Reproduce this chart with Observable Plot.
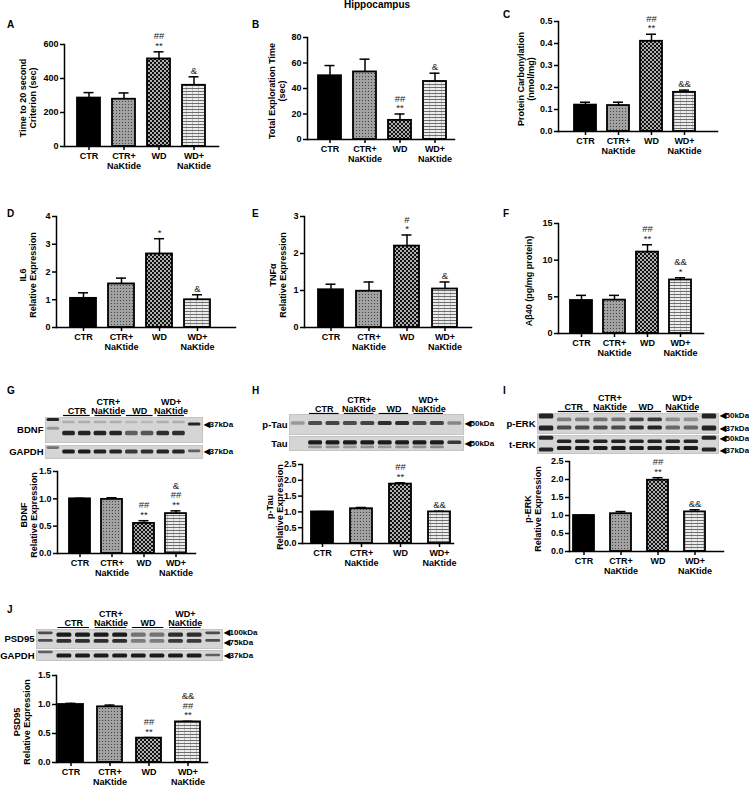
<!DOCTYPE html>
<html><head><meta charset="utf-8">
<script src="https://cdn.jsdelivr.net/npm/d3@7"></script>
<script src="https://cdn.jsdelivr.net/npm/@observablehq/plot@0.6"></script>
<style>
body{margin:0;background:#fff;}
#fig{position:relative;width:749px;height:786px;overflow:hidden;font-family:"Liberation Sans",Arial,sans-serif;background:#fff;}
.lbl{position:absolute;font-weight:bold;line-height:1;color:#000;}
.ylab{position:absolute;white-space:pre;text-align:center;font-weight:bold;font-size:9px;line-height:1.15;color:#000;transform:translate(-50%,-50%) rotate(-90deg);}
#fig svg{position:absolute;overflow:visible;}
</style></head><body>
<div id="fig">
<svg width="0" height="0" style="position:absolute">
<defs>
<pattern id="pCtrN" width="3" height="3" patternUnits="userSpaceOnUse"><rect width="3" height="3" fill="#a2a2a2"/><rect width="1" height="1" fill="#444"/></pattern>
<pattern id="pWD" width="4" height="4" patternUnits="userSpaceOnUse"><rect width="4" height="4" fill="#b0b0b0"/><rect width="2" height="2" fill="#111"/><rect x="2" y="2" width="2" height="2" fill="#111"/></pattern>
<pattern id="pWDN" width="6" height="3" patternUnits="userSpaceOnUse"><rect width="6" height="3" fill="#ececec"/><rect y="2" width="6" height="1" fill="#6e6e6e"/><rect x="4" y="0" width="1" height="2" fill="#c0c0c0"/></pattern>
</defs>
</svg>
</div>
<script>
// ---------------- DATA ----------------
const groups = ["CTR", "CTR+\nNaKtide", "WD", "WD+\nNaKtide"];
const groupFills = ["#000", "url(#pCtrN)", "url(#pWD)", "url(#pWDN)"];

// A
const timeToCriterion = [285, 278, 515, 360];
const timeToCriterionSEM = [32, 37, 42, 50];
const timeToCriterionSig = ["", "", "##\n**", "&"];
const timeTicks = [0, 200, 400, 600];
// B
const explorationTime = [50, 53, 15, 45.5];
const explorationSEM = [8, 10, 5, 6.5];
const explorationSig = ["", "", "##\n**", "&"];
const explorationTicks = [0, 20, 40, 60, 80];
// C
const carbonylation = [0.12, 0.118, 0.41, 0.178];
const carbonylationSEM = [0.013, 0.015, 0.032, 0.01];
const carbonylationSig = ["", "", "##\n**", "&&"];
const carbonylationTicks = [0, 0.1, 0.2, 0.3, 0.4, 0.5];
// D
const il6 = [1.05, 1.57, 2.65, 1.0];
const il6SEM = [0.2, 0.21, 0.55, 0.18];
const il6Sig = ["", "", "*", "&"];
const il6Ticks = [0, 1, 2, 3, 4];
// E
const tnfa = [1.02, 0.98, 2.2, 1.04];
const tnfaSEM = [0.15, 0.25, 0.3, 0.19];
const tnfaSig = ["", "", "#\n*", "&"];
const tnfaTicks = [0, 1, 2, 3];
// F
const abeta40 = [4.5, 4.55, 11.1, 7.3];
const abeta40SEM = [0.7, 0.65, 1.0, 0.3];
const abeta40Sig = ["", "", "##\n**", "&&\n*"];
const abeta40Ticks = [0, 5, 10, 15];
// G
const bdnf = [1.0, 0.99, 0.55, 0.73];
const bdnfSEM = [0.01, 0.03, 0.05, 0.05];
const bdnfSig = ["", "", "##\n**", "&\n##\n**"];
const relTicks15 = [0, 0.5, 1.0, 1.5];
// H
const pTau = [1.0, 1.1, 1.88, 1.0];
const pTauSEM = [0.01, 0.04, 0.04, 0.02];
const pTauSig = ["", "", "##\n**", "&&"];
const relTicks25 = [0, 0.5, 1.0, 1.5, 2.0, 2.5];
// I
const pErk = [1.0, 1.05, 1.98, 1.1];
const pErkSEM = [0.01, 0.06, 0.07, 0.06];
const pErkSig = ["", "", "##\n**", "&&"];
// J
const psd95 = [1.0, 0.96, 0.42, 0.70];
const psd95SEM = [0.02, 0.03, 0.01, 0.01];
const psd95Sig = ["", "", "##\n**", "&&\n##\n**"];

// Western blot band intensities (8 sample lanes, 2 per group)
const bdnfBand = [0.9, 0.9, 0.9, 0.9, 0.6, 0.65, 0.85, 0.85];
const bdnfFaintBand = [0.2, 0.2, 0.2, 0.2, 0.15, 0.15, 0.2, 0.2];
const gapdhBandG = [0.95, 0.95, 0.9, 0.9, 0.8, 0.85, 0.9, 0.9];
const pTauBand = [0.7, 0.75, 0.7, 0.75, 0.85, 0.85, 0.7, 0.75];
const tauBand = [0.95, 0.95, 0.95, 0.95, 0.95, 0.95, 0.95, 0.95];
const tauLowerBand = [0.35, 0.35, 0.3, 0.35, 0.3, 0.35, 0.35, 0.4];
const pErkUpperBand = [0.45, 0.45, 0.5, 0.5, 0.75, 0.8, 0.35, 0.35];
const pErkLowerBand = [0.7, 0.7, 0.7, 0.7, 0.85, 0.9, 0.55, 0.55];
const tErkUpperBand = [0.9, 0.9, 0.9, 0.9, 0.9, 0.9, 0.9, 0.9];
const tErkLowerBand = [0.95, 0.95, 0.95, 0.95, 0.95, 0.95, 0.95, 0.95];
const psd95UpperBand = [0.95, 0.95, 0.95, 0.95, 0.5, 0.5, 0.85, 0.85];
const psd95LowerBand = [0.85, 0.85, 0.85, 0.85, 0.45, 0.45, 0.8, 0.8];
const gapdhBandJ = [0.95, 0.95, 0.95, 0.95, 0.95, 0.95, 0.95, 0.95];
// ladder lanes: [lane, relative position, intensity]
const bdnfLadder = [[0, 0.1, 0.9], [0, 0.45, 0.3], [9, 0.28, 0.9]];
const gapdhLadderG = [[0, 0.2, 0.5], [9, 0.45, 0.6]];
const pTauLadder = [[0, 0.45, 0.3], [9, 0.45, 0.4]];
const tauLadder = [[9, 0.45, 0.8]];
const pErkLadder = [[0, 0.15, 0.9], [0, 0.75, 0.9], [9, 0.15, 0.9], [9, 0.75, 0.9]];
const tErkLadder = [[0, 0.15, 0.9], [0, 0.8, 0.9], [9, 0.15, 0.9], [9, 0.8, 0.9]];
const psd95Ladder = [[0, 0.2, 0.7], [0, 0.6, 0.7], [9, 0.2, 0.7], [9, 0.6, 0.7]];
const gapdhLadderJ = [[0, 0.2, 0.6], [9, 0.5, 0.6]];
// molecular weight markers: [label, relative position]
const kdaBDNF = [["37kDa", 0.28]];
const kdaGAPDH_G = [["37kDa", 0.46]];
const kdaPTau = [["50kDa", 0.45]];
const kdaTau = [["50kDa", 0.5]];
const kdaPErk = [["50kDa", 0.1], ["37kDa", 0.75]];
const kdaTErk = [["50kDa", 0.17], ["37kDa", 0.83]];
const kdaPSD95 = [["100kDa", 0.16], ["75kDa", 0.68]];
const kdaGAPDH_J = [["37kDa", 0.5]];

// ---------------- LAYOUT ----------------
const FONT = '"Liberation Sans", Arial, sans-serif';
const fig = document.getElementById("fig");

function place(el, left, top) {
  el.style.left = left + "px";
  el.style.top = top + "px";
  fig.appendChild(el);
}
function label(text, left, top, size) {
  const d = document.createElement("div");
  d.className = "lbl";
  d.style.fontSize = size + "px";
  d.textContent = text;
  place(d, left, top);
}
function ylabel(text, cx, cy) {
  const d = document.createElement("div");
  d.className = "ylab";
  d.textContent = text;
  place(d, cx, cy);
}

function barPanel(values, sem, sig, ticks, fmt, ylab, L) {
  const mL = 50, mR = 8, mT = 30, mB = 30;
  const left = L.axisL - mL, top = L.yTop - mT;
  const width = mL + (L.axisR - L.axisL) + mR;
  const height = mT + (L.yBot - L.yTop) + mB;
  const R = L.barR - L.barL;
  const pi = (R - 4 * L.bw) / (R - L.bw);
  const data = groups.map((g, i) => ({g, v: values[i], top: values[i] + sem[i], sig: sig[i], fill: groupFills[i]}));
  const cap = 10;
  const svg = Plot.plot({
    width, height, marginLeft: mL, marginRight: mR, marginTop: mT, marginBottom: mB,
    style: {fontFamily: FONT, fontSize: "9px", fontWeight: "bold", background: "transparent", color: "#000", overflow: "visible"},
    x: {type: "band", domain: groups, range: [L.barL - left, L.barR - left], paddingInner: pi, paddingOuter: 0, axis: null, label: null},
    y: {domain: [0, ticks[ticks.length - 1]], axis: null, label: null},
    color: {type: "identity"},
    marks: [
      Plot.ruleX(data, {x: "g", y1: "v", y2: "top", strokeWidth: 1.5}),
      Plot.tickY(data, {x: "g", y: "top", strokeWidth: 1.5, insetLeft: (L.bw - cap) / 2, insetRight: (L.bw - cap) / 2}),
      Plot.barY(data, {x: "g", y: "v", fill: "fill", stroke: "#000", strokeWidth: 1.8}),
      Plot.frame({anchor: "left", strokeWidth: 1.5}),
      Plot.frame({anchor: "bottom", strokeWidth: 1.5}),
      Plot.axisY({ticks, tickSize: 4, tickPadding: 2, tickFormat: fmt, strokeWidth: 1.5, label: null}),
      Plot.axisX({tickSize: 4, tickPadding: 2, lineHeight: 1.05, strokeWidth: 1.5, label: null}),
      Plot.text(data, {x: "g", y: "top", text: "sig", lineAnchor: "bottom", dy: -3, fontWeight: "normal", fontSize: 9.5, lineHeight: 1.0, fill: "#222"})
    ]
  });
  place(svg, left, top);
  ylabel(ylab, L.ylabX, (L.yTop + L.yBot) / 2 + 3);
}

const blotML = 50, blotMR = 45;
function blotHeader(B) {
  const width = blotML + (B.blotR - B.blotL) + blotMR;
  const height = 25;
  const data = groups.map((g, i) => ({g, c: 2 + 2 * i}));
  const svg = Plot.plot({
    width, height, marginLeft: blotML, marginRight: blotMR, marginTop: 0, marginBottom: 1,
    style: {fontFamily: FONT, fontSize: "9px", fontWeight: "bold", background: "transparent", color: "#000", overflow: "visible"},
    x: {domain: [0, 10], axis: null},
    y: {domain: [0, 1], axis: null},
    marks: [
      Plot.ruleY(data, {x1: d => d.c - 0.85, x2: d => d.c + 0.85, y: 0, strokeWidth: 1.2}),
      Plot.text(data, {x: "c", y: 0, text: "g", lineAnchor: "bottom", dy: -2, lineHeight: 1})
    ]
  });
  place(svg, B.blotL - blotML, B.underline - (height - 1));
}

function bandsFrom(intens, pos, h) {
  return intens.map((a, i) => ({lane: i + 1, pos, h, a}));
}
function ladderFrom(list, h) {
  return list.map(([lane, pos, a]) => ({lane, pos, h, a}));
}

function blotRow(B, rowTop, rowBot, name, bands, kdas) {
  const width = blotML + (B.blotR - B.blotL) + blotMR;
  const height = rowBot - rowTop;
  const svg = Plot.plot({
    width, height, marginLeft: blotML, marginRight: blotMR, marginTop: 0, marginBottom: 0,
    style: {fontFamily: FONT, fontSize: "9.5px", fontWeight: "bold", background: "transparent", color: "#000", overflow: "visible"},
    x: {domain: [0, 10], axis: null},
    y: {domain: [0, 1], reverse: true, axis: null},
    marks: [
      Plot.frame({fill: "#d5d5d5", stroke: "#c4c4c4"}),
      Plot.rect(bands, {x1: d => d.lane + 0.1, x2: d => d.lane + 0.9, y1: d => d.pos - d.h / 2, y2: d => d.pos + d.h / 2, fill: "#111", fillOpacity: "a", rx: 1.5}),
      Plot.text([name], {text: d => d, frameAnchor: "left", textAnchor: "end", dx: -2}),
      Plot.text(kdas, {y: d => d[1], text: d => "\u25C0" + d[0], frameAnchor: "right", textAnchor: "start", dx: 1, fontSize: 8})
    ]
  });
  place(svg, B.blotL - blotML, rowTop);
}

// ---------------- TITLE & LETTERS ----------------
label("Hippocampus", 344, 0, 10);
[["A", 7, 20], ["B", 252, 20], ["C", 503, 10], ["D", 7, 209], ["E", 252, 209], ["F", 503, 209],
 ["G", 7, 386], ["H", 252, 386], ["I", 503, 386], ["J", 7, 605]].forEach(([t, x, y]) => label(t, x, y, 10));

// ---------------- PANELS ----------------
const fInt = d3.format("d"), f1 = d3.format(".1f");
barPanel(timeToCriterion, timeToCriterionSEM, timeToCriterionSig, timeTicks, fInt, "Time to 20 second\nCriterion (sec)",
  {axisL: 64, axisR: 218, yTop: 44, yBot: 146, barL: 76, barR: 206, bw: 23, ylabX: 27.5});
barPanel(explorationTime, explorationSEM, explorationSig, explorationTicks, fInt, "Total Exploration Time\n(sec)",
  {axisL: 307, axisR: 454, yTop: 37, yBot: 139, barL: 318, barR: 446, bw: 23, ylabX: 276.5});
barPanel(carbonylation, carbonylationSEM, carbonylationSig, carbonylationTicks, f1, "Protein Carbonylation\n(nmol/mg)",
  {axisL: 558, axisR: 717, yTop: 21, yBot: 131, barL: 573, barR: 695, bw: 22, ylabX: 526});
barPanel(il6, il6SEM, il6Sig, il6Ticks, fInt, "IL6\nRelative Expression",
  {axisL: 56, axisR: 235, yTop: 216, yBot: 327, barL: 70, barR: 210, bw: 26, ylabX: 27.5});
barPanel(tnfa, tnfaSEM, tnfaSig, tnfaTicks, fInt, "TNFα\nRelative Expression",
  {axisL: 304, axisR: 471, yTop: 216, yBot: 327, barL: 318, barR: 457, bw: 25, ylabX: 277.5});
barPanel(abeta40, abeta40SEM, abeta40Sig, abeta40Ticks, fInt, "Aβ40 (pg/mg protein)",
  {axisL: 558, axisR: 703, yTop: 223, yBot: 333, barL: 569, barR: 691, bw: 22, ylabX: 529});
barPanel(bdnf, bdnfSEM, bdnfSig, relTicks15, f1, "BDNF\nRelative Expression",
  {axisL: 57, axisR: 195, yTop: 471, yBot: 553, barL: 68, barR: 186, bw: 21, ylabX: 28.5});
barPanel(pTau, pTauSEM, pTauSig, relTicks25, f1, "p-Tau\nRelative Expression",
  {axisL: 302, axisR: 453, yTop: 464, yBot: 543, barL: 310, barR: 450, bw: 22, ylabX: 275});
barPanel(pErk, pErkSEM, pErkSig, relTicks25, f1, "p-ERK\nRelative Expression",
  {axisL: 569, axisR: 723, yTop: 461, yBot: 551, barL: 573, barR: 705, bw: 21, ylabX: 532.5});
barPanel(psd95, psd95SEM, psd95Sig, relTicks15, f1, "PSD95\nRelative Expression",
  {axisL: 56, axisR: 207, yTop: 675, yBot: 762, barL: 58, barR: 200, bw: 25, ylabX: 21.5});

// ---------------- BLOTS ----------------
const blotG = {blotL: 45, blotR: 202, underline: 415};
blotHeader(blotG);
blotRow(blotG, 417, 442, "BDNF",
  [...bandsFrom(bdnfBand, 0.64, 0.18), ...bandsFrom(bdnfFaintBand, 0.2, 0.1), ...ladderFrom(bdnfLadder, 0.12)], kdaBDNF);
blotRow(blotG, 445, 458, "GAPDH",
  [...bandsFrom(gapdhBandG, 0.5, 0.32), ...ladderFrom(gapdhLadderG, 0.2)], kdaGAPDH_G);

const blotH = {blotL: 289, blotR: 463, underline: 413};
blotHeader(blotH);
blotRow(blotH, 414, 434, "p-Tau",
  [...bandsFrom(pTauBand, 0.45, 0.2), ...ladderFrom(pTauLadder, 0.18)], kdaPTau);
blotRow(blotH, 436, 450, "Tau",
  [...bandsFrom(tauBand, 0.45, 0.3), ...bandsFrom(tauLowerBand, 0.78, 0.2), ...ladderFrom(tauLadder, 0.25)], kdaTau);

const blotI = {blotL: 537, blotR: 718, underline: 411};
blotHeader(blotI);
blotRow(blotI, 413, 433, "p-ERK",
  [...bandsFrom(pErkUpperBand, 0.32, 0.18), ...bandsFrom(pErkLowerBand, 0.72, 0.2), ...ladderFrom(pErkLadder, 0.25)], kdaPErk);
blotRow(blotI, 435, 453, "t-ERK",
  [...bandsFrom(tErkUpperBand, 0.35, 0.2), ...bandsFrom(tErkLowerBand, 0.72, 0.22), ...ladderFrom(tErkLadder, 0.22)], kdaTErk);

const blotJ = {blotL: 36, blotR: 222, underline: 627};
blotHeader(blotJ);
blotRow(blotJ, 629, 648, "PSD95",
  [...bandsFrom(psd95UpperBand, 0.3, 0.22), ...bandsFrom(psd95LowerBand, 0.62, 0.2), ...ladderFrom(psd95Ladder, 0.15)], kdaPSD95);
blotRow(blotJ, 650, 660, "GAPDH",
  [...bandsFrom(gapdhBandJ, 0.55, 0.4), ...ladderFrom(gapdhLadderJ, 0.25)], kdaGAPDH_J);
</script>
</body></html>
